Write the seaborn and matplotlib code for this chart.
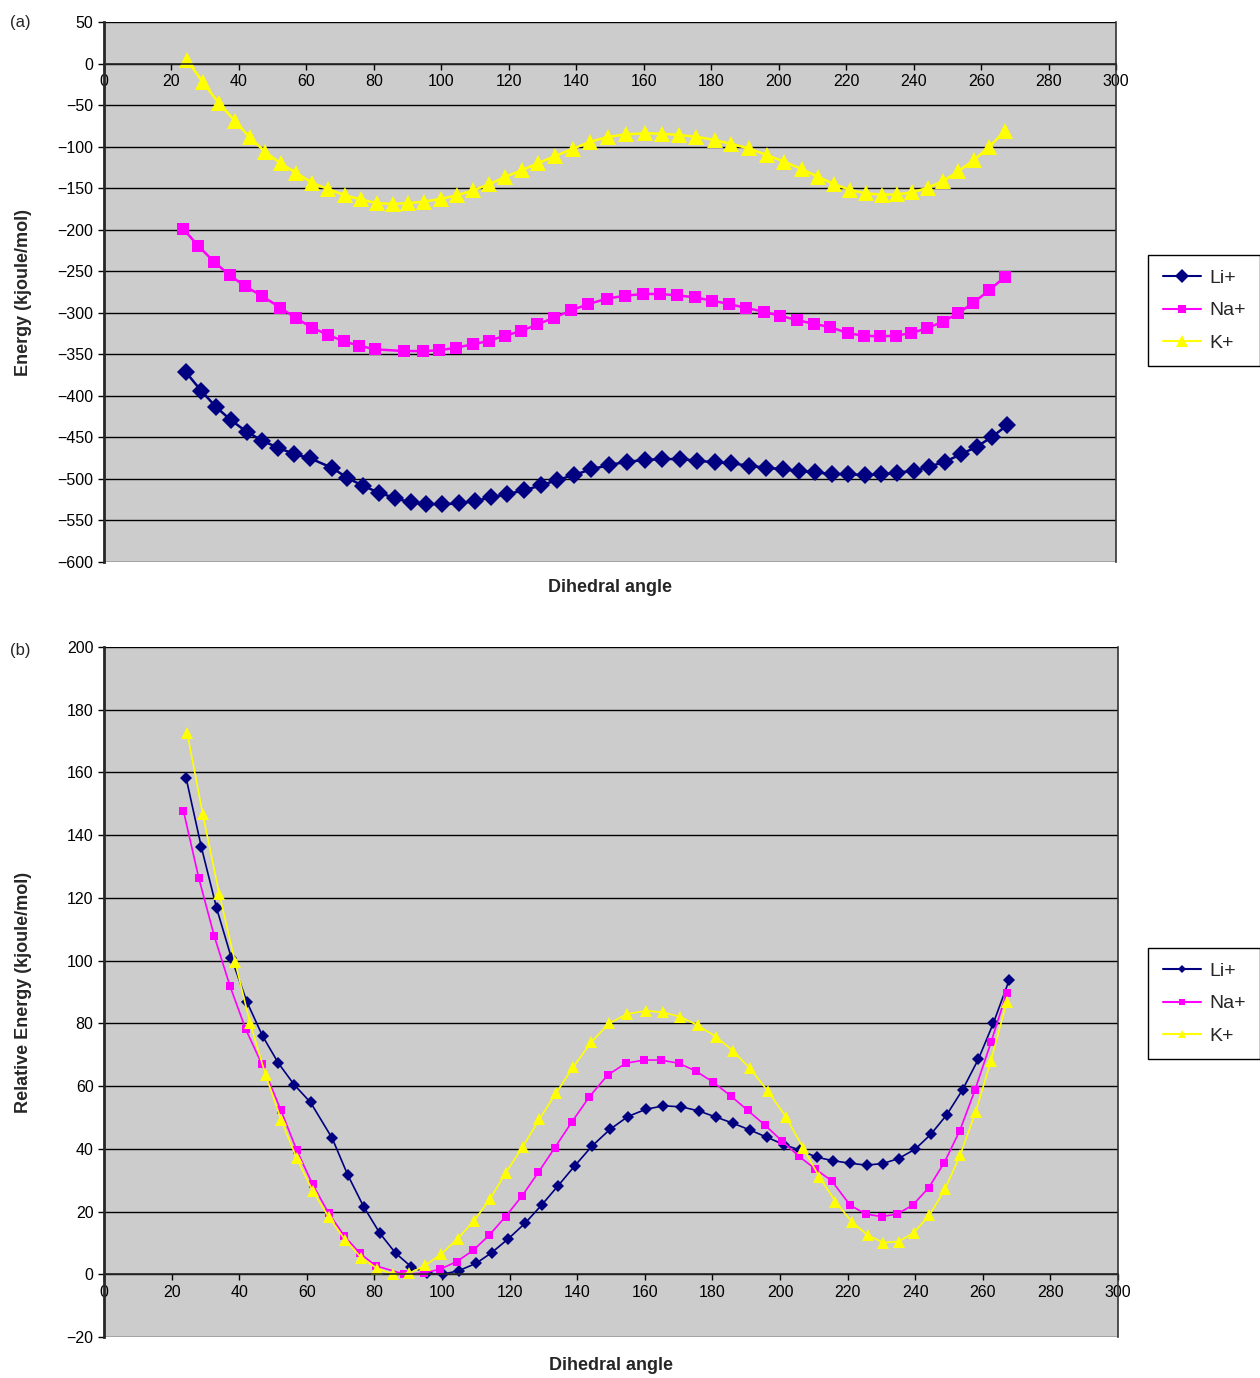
import numpy as np
import pandas as pd
import matplotlib
matplotlib.use("Agg")
import matplotlib.pyplot as plt
from matplotlib.lines import Line2D
import seaborn as sns

sns.set_style("white")
plt.rcParams['font.family'] = ['Liberation Sans', 'DejaVu Sans']

# dihedral angles of each scan (one set per ion)
li_angle = [24.3, 28.8, 33.3, 37.7, 42.3, 46.9, 51.6, 56.3, 61.1, 67.5, 72.1, 76.8, 81.6, 86.3, 90.9,
            95.6, 100.3, 105.1, 110.1, 114.7, 119.6, 124.6, 129.5, 134.4, 139.3, 144.4, 149.7, 155.0,
            160.3, 165.5, 170.8, 175.9, 181.1, 186.0, 191.1, 196.1, 201.2, 205.9, 210.9, 215.8, 220.7,
            225.6, 230.4, 235.1, 240.0, 244.6, 249.3, 254.0, 258.7, 263.1, 267.8]
na_angle = [23.5, 28.0, 32.6, 37.3, 41.9, 46.7, 52.3, 57.0, 61.7, 66.5, 71.1, 75.7, 80.4, 88.9, 94.7,
            99.4, 104.3, 109.3, 114.0, 118.8, 123.7, 128.5, 133.4, 138.5, 143.6, 149.0, 154.4, 159.8,
            164.7, 170.0, 175.1, 180.3, 185.4, 190.4, 195.6, 200.5, 205.5, 210.5, 215.3, 220.7, 225.3,
            230.1, 234.7, 239.3, 244.0, 248.6, 253.2, 257.7, 262.4, 267.1]
k_angle = [24.6, 29.2, 34.1, 38.8, 43.2, 47.8, 52.4, 57.0, 61.7, 66.5, 71.4, 76.1, 80.9, 85.6, 90.2,
           95.0, 99.8, 104.7, 109.5, 114.2, 118.9, 123.9, 128.8, 133.7, 138.9, 144.1, 149.4, 154.8,
           160.3, 165.4, 170.5, 175.6, 181.0, 186.0, 191.1, 196.4, 201.7, 206.9, 211.6, 216.4, 221.2,
           225.9, 230.5, 235.1, 239.6, 244.2, 248.8, 253.3, 257.9, 262.4, 267.1]

# (a) absolute energies, kJ/mol
li_energy = [-371.7, -393.8, -413.8, -429.5, -443.2, -454.0, -462.4, -470.0, -475.2, -486.5, -498.5,
             -508.5, -516.6, -523.3, -528.2, -530.2, -530.6, -529.4, -526.6, -522.2, -518.2, -513.7,
             -507.7, -501.3, -495.3, -488.4, -483.3, -479.3, -477.3, -476.1, -476.1, -478.1, -480.0,
             -481.2, -484.1, -486.5, -488.4, -490.5, -492.1, -494.1, -494.5, -495.3, -494.5, -492.5,
             -490.1, -485.3, -479.3, -470.4, -461.2, -449.9, -435.1]
na_energy = [-199.2, -219.7, -238.6, -255.0, -268.2, -279.5, -293.9, -306.7, -318.0, -326.8, -334.4,
             -339.7, -344.0, -346.1, -346.1, -345.2, -342.1, -338.0, -334.0, -327.6, -322.0, -313.9,
             -306.0, -297.1, -289.5, -283.1, -279.5, -277.4, -277.4, -279.0, -281.4, -285.5, -289.5,
             -294.3, -298.7, -303.9, -308.7, -313.5, -317.2, -324.8, -327.6, -328.4, -327.6, -324.4,
             -318.7, -310.8, -300.7, -287.9, -273.0, -256.6]
k_energy = [4.2, -21.9, -48.1, -68.9, -89.0, -106.3, -120.3, -131.6, -143.6, -151.3, -158.5, -163.6,
            -168.1, -168.9, -168.1, -166.1, -163.0, -158.5, -152.5, -145.3, -136.5, -128.4, -119.6,
            -111.5, -102.7, -94.3, -88.3, -85.2, -84.0, -84.5, -86.1, -88.1, -92.1, -96.9, -102.1,
            -110.1, -118.2, -127.3, -136.2, -145.0, -152.3, -156.2, -157.9, -157.5, -155.1, -149.5,
            -141.4, -129.4, -116.1, -100.4, -80.9]

# (b) relative energies, kJ/mol
li_rel = [158.2, 136.2, 116.8, 100.8, 86.8, 76.0, 67.3, 60.4, 54.8, 43.4, 31.7, 21.6, 13.1, 6.7, 2.4,
          0.3, 0.0, 1.2, 3.5, 6.9, 11.3, 16.3, 22.1, 28.3, 34.6, 40.9, 46.2, 50.3, 52.6, 53.7, 53.4,
          52.1, 50.1, 48.2, 46.0, 43.7, 41.3, 39.6, 37.3, 36.2, 35.4, 34.8, 35.3, 36.9, 39.9, 44.6,
          50.8, 58.8, 68.6, 80.0, 93.8]
na_rel = [147.8, 126.5, 107.9, 91.8, 78.2, 67.0, 52.4, 39.6, 28.7, 19.4, 12.2, 6.7, 2.7, 0.0, 0.4,
          1.6, 4.0, 7.7, 12.5, 18.4, 25.0, 32.5, 40.4, 48.7, 56.6, 63.5, 67.3, 68.3, 68.3, 67.3, 64.8,
          61.2, 56.9, 52.3, 47.5, 42.6, 37.7, 33.5, 29.8, 22.1, 19.2, 18.4, 19.2, 22.1, 27.6, 35.6,
          45.8, 58.8, 73.9, 89.8]
k_rel = [172.7, 146.8, 121.3, 99.5, 80.2, 63.6, 49.2, 37.0, 26.7, 18.2, 10.9, 5.3, 1.8, 0.0, 0.3,
         2.8, 6.5, 11.4, 17.1, 24.0, 32.4, 40.7, 49.4, 57.7, 66.2, 73.9, 80.0, 83.0, 84.0, 83.5, 82.1,
         79.4, 75.8, 71.3, 65.7, 58.4, 50.3, 40.2, 31.1, 23.2, 16.8, 12.5, 10.1, 10.4, 13.3, 18.8,
         27.1, 38.0, 51.8, 68.1, 86.9]

ions = ['Li+', 'Na+', 'K+']
palette = {'Li+': '#000080', 'Na+': '#FF00FF', 'K+': '#FFFF00'}
markers = {'Li+': 'D', 'Na+': 's', 'K+': '^'}


def make_df(values):
    parts = []
    for ion, ang, val in zip(ions, [li_angle, na_angle, k_angle], values):
        parts.append(pd.DataFrame({'angle': ang, 'energy': val, 'ion': ion}))
    return pd.concat(parts, ignore_index=True)


df_a = make_df([li_energy, na_energy, k_energy])
df_b = make_df([li_rel, na_rel, k_rel])

fig = plt.figure(figsize=(12.6, 13.78), dpi=100)
ax_a = fig.add_axes([104 / 1260, 1 - 562 / 1378, 1012 / 1260, 540 / 1378])
ax_b = fig.add_axes([104 / 1260, 1 - 1337 / 1378, 1014 / 1260, 690 / 1378])


def style_axes(ax, ylo, yhi, ystep, ylabel, msizes, xlab_y):
    ax.set_facecolor('#CCCCCC')
    ax.set_xlim(0, 300)
    ax.set_ylim(ylo, yhi)
    ax.set_xticks(np.arange(0, 301, 20))
    ax.set_yticks(np.arange(ylo, yhi + 1, ystep))
    ax.grid(axis='y', color='black', linewidth=1.0)
    ax.grid(axis='x', visible=False)
    ax.set_axisbelow(True)
    ax.spines['bottom'].set_position(('data', 0))
    ax.spines['bottom'].set_linewidth(1.2)
    ax.spines['left'].set_linewidth(2.0)
    ax.spines['top'].set_visible(False)
    ax.spines['right'].set_color('#333333')
    ax.spines['right'].set_linewidth(1.2)
    ax.tick_params(axis='both', direction='out', length=4, width=1, labelsize=11.5,
                   bottom=True, left=True, colors='black')
    ax.set_xlabel('')
    ax.set_ylabel(ylabel, fontsize=13, fontweight='bold')
    ax.yaxis.set_label_coords(-72 / 1012, 0.5)
    ax.text(0.5, xlab_y, 'Dihedral angle', transform=ax.transAxes,
            ha='center', va='center', fontsize=13, fontweight='bold')
    handles = [Line2D([], [], color=palette[i], marker=markers[i], markersize=msizes[i] * 0.75,
                      linewidth=1.5, markeredgewidth=0) for i in ions]
    return handles


sizes_a = {'Li+': 9, 'Na+': 8, 'K+': 11}
sizes_b = {'Li+': 6, 'Na+': 5.5, 'K+': 8}

for ion in ions:
    sub = df_a[df_a['ion'] == ion]
    sns.lineplot(data=sub, x='angle', y='energy', color=palette[ion], marker=markers[ion],
                 markersize=sizes_a[ion], markeredgewidth=0, linewidth=1.8, sort=False,
                 estimator=None, ax=ax_a, legend=False)
    sub = df_b[df_b['ion'] == ion]
    sns.lineplot(data=sub, x='angle', y='energy', color=palette[ion], marker=markers[ion],
                 markersize=sizes_b[ion], markeredgewidth=0, linewidth=1.2, sort=False,
                 estimator=None, ax=ax_b, legend=False)

h_a = style_axes(ax_a, -600, 50, 50, 'Energy (kjoule/mol)', sizes_a, -0.048)
h_b = style_axes(ax_b, -20, 200, 20, 'Relative Energy (kjoule/mol)', sizes_b, -0.042)

for handles, top in [(h_a, 1 - 255 / 1378), (h_b, 1 - 948 / 1378)]:
    leg = fig.legend(handles, ions, loc='upper left', bbox_to_anchor=(1148 / 1260, top),
                     fontsize=14, frameon=True, fancybox=False, edgecolor='black',
                     framealpha=1, handlelength=2.0, handletextpad=0.4, labelspacing=0.75,
                     borderpad=0.75, borderaxespad=0)
    leg.get_frame().set_linewidth(1.0)

fig.text(10 / 1260, 1 - 22 / 1378, '(a)', fontsize=12, va='center')
fig.text(10 / 1260, 1 - 651 / 1378, '(b)', fontsize=12, va='center')

fig.savefig('out.png', dpi=100, facecolor='white')
